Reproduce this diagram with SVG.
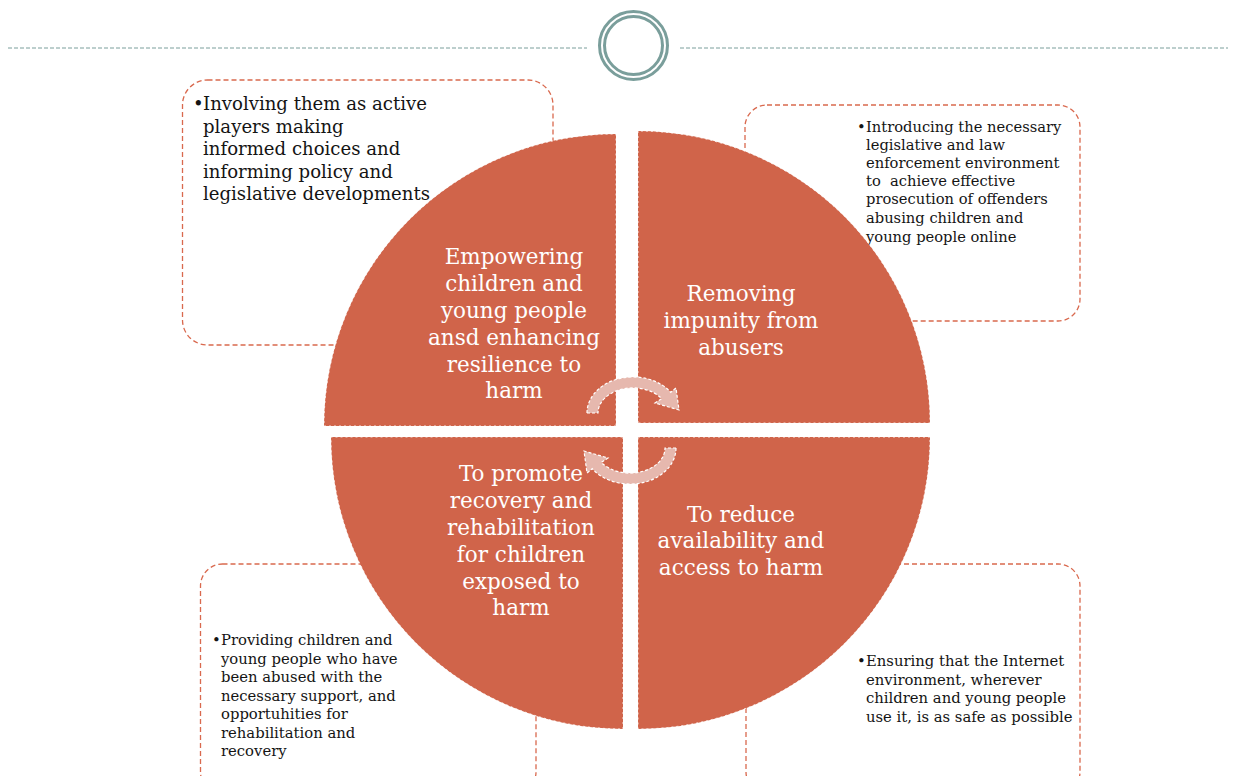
<svg xmlns="http://www.w3.org/2000/svg" width="1233" height="776" viewBox="0 0 1233 776">
<style>
.box{fill:#fff;stroke:#D9694E;stroke-width:1.3;stroke-dasharray:5 3}
.q{fill:#D0644A;stroke:#fff;stroke-width:1;stroke-dasharray:2 3;stroke-opacity:0.8}
.arr{fill:#E6B8AE;stroke:#fff;stroke-width:1.2;stroke-dasharray:3 2}
.lbl{font-family:"DejaVu Serif","Liberation Serif",serif;font-size:21.5px;fill:#fff;text-anchor:middle}
.t{font-family:"DejaVu Serif","Liberation Serif",serif;fill:#141414;white-space:pre}
.hdr{stroke:#7A9E9B;stroke-width:1;stroke-dasharray:4 2;fill:none}
.ring{fill:none;stroke:#7A9E9B;stroke-width:3}
</style>
<rect width="1233" height="776" fill="#fff"/>
<g id="header">
<line class="hdr" x1="8" y1="48" x2="587" y2="48"/>
<line class="hdr" x1="680" y1="48" x2="1228" y2="48"/>
<circle class="ring" cx="633.5" cy="45.5" r="34"/>
<circle class="ring" cx="633.5" cy="45.5" r="29"/>
</g>
<g id="box-tl">
<rect class="box" x="182.5" y="80" width="370.5" height="265" rx="25"/>
<g class="t" font-size="18.1">
<text x="193" y="110">•</text>
<text x="203" y="110">Involving them as active</text>
<text x="203" y="132.5">players making</text>
<text x="203" y="155">informed choices and</text>
<text x="203" y="177.5">informing policy and</text>
<text x="203" y="200">legislative developments</text>
</g>
</g>
<g id="box-tr">
<rect class="box" x="745" y="105" width="335" height="216" rx="22"/>
<g class="t" font-size="14.7">
<text x="857" y="132">•</text>
<text x="866" y="132">Introducing the necessary</text>
<text x="866" y="150">legislative and law</text>
<text x="866" y="168">enforcement environment</text>
<text x="866" y="186" xml:space="preserve">to  achieve effective</text>
<text x="866" y="204">prosecution of offenders</text>
<text x="866" y="223">abusing children and</text>
<text x="866" y="242">young people online</text>
</g>
</g>
<g id="box-bl">
<rect class="box" x="200.5" y="564" width="335.5" height="230" rx="22"/>
<g class="t" font-size="14.8">
<text x="212" y="645">•</text>
<text x="221" y="645">Providing children and</text>
<text x="221" y="663.5">young people who have</text>
<text x="221" y="682">been abused with the</text>
<text x="221" y="700.5">necessary support, and</text>
<text x="221" y="719">opportuhities for</text>
<text x="221" y="737.5">rehabilitation and</text>
<text x="221" y="756">recovery</text>
</g>
</g>
<g id="box-br">
<rect class="box" x="746" y="564" width="334" height="230" rx="22"/>
<g class="t" font-size="14.8">
<text x="857" y="666">•</text>
<text x="866" y="666">Ensuring that the Internet</text>
<text x="866" y="684.5">environment, wherever</text>
<text x="866" y="703">children and young people</text>
<text x="866" y="721.5">use it, is as safe as possible</text>
</g>
</g>
<g id="q-tl">
<path class="q" d="M616,426 L324,426 A292,292 0 0 1 616,134 Z"/>
<text class="lbl" x="514" y="264">Empowering</text>
<text class="lbl" x="514" y="291">children and</text>
<text class="lbl" x="514" y="318">young people</text>
<text class="lbl" x="514" y="345">ansd enhancing</text>
<text class="lbl" x="514" y="372">resilience to</text>
<text class="lbl" x="514" y="398">harm</text>
</g>
<g id="q-tr">
<path class="q" d="M638,423 L638,131 A292,292 0 0 1 930,423 Z"/>
<text class="lbl" x="741" y="301">Removing</text>
<text class="lbl" x="741" y="328">impunity from</text>
<text class="lbl" x="741" y="355">abusers</text>
</g>
<g id="q-bl">
<path class="q" d="M623,437 L623,729 A292,292 0 0 1 331,437 Z"/>
<text class="lbl" x="521" y="481">To promote</text>
<text class="lbl" x="521" y="508">recovery and</text>
<text class="lbl" x="521" y="535">rehabilitation</text>
<text class="lbl" x="521" y="562">for children</text>
<text class="lbl" x="521" y="589">exposed to</text>
<text class="lbl" x="521" y="615">harm</text>
</g>
<g id="q-br">
<path class="q" d="M638,437 L930,437 A292,292 0 0 1 638,729 Z"/>
<text class="lbl" x="741" y="522">To reduce</text>
<text class="lbl" x="741" y="548">availability and</text>
<text class="lbl" x="741" y="575">access to harm</text>
</g>
<g id="connectors">
<path id="arrow-top" class="arr" d="M587,413 A46,36 0 0 1 670.7,392.3 L676,388 L679,410 L655,403 L661.7,398.6 A35,25 0 0 0 598,413 Z"/>
<path id="arrow-bottom" class="arr" transform="rotate(180 631.5 430.5)" d="M587,413 A46,36 0 0 1 670.7,392.3 L676,388 L679,410 L655,403 L661.7,398.6 A35,25 0 0 0 598,413 Z"/>
</g>
</svg>
